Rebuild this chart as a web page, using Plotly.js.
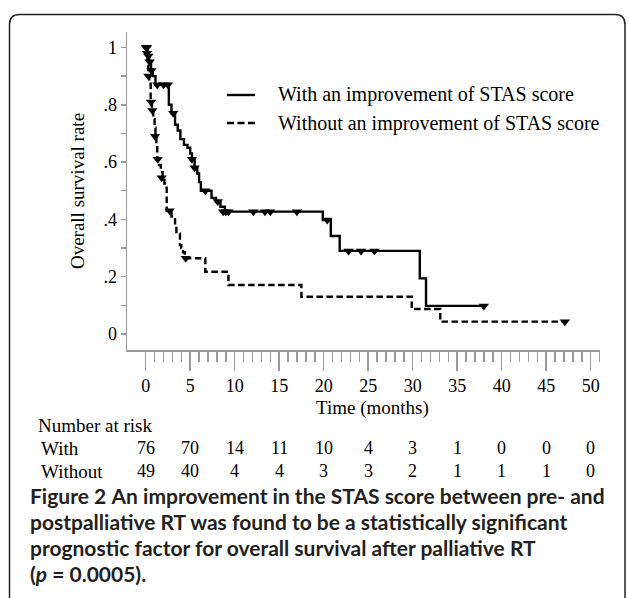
<!DOCTYPE html>
<html>
<head>
<meta charset="utf-8">
<script src="https://cdn.plot.ly/plotly-3.0.1.min.js"></script>
<style>
html,body{margin:0;padding:0;background:#fff;}
#chart{width:629px;height:598px;}
</style>
</head>
<body>
<div id="chart"></div>
<script>
// ---- Data ----
// "With an improvement of STAS score" Kaplan-Meier steps
var withT = [0, 0.2, 0.4, 0.6, 0.8, 1.1, 2.6, 2.9, 3.3, 3.6, 3.9, 4.3, 4.7, 5.0, 5.2, 5.5, 5.8, 6.0, 6.2, 7.4, 7.9, 8.4, 8.9, 19.9, 20.8, 21.8, 30.8, 31.5, 38.0];
var withS = [1, 0.97, 0.95, 0.92, 0.90, 0.87, 0.80, 0.77, 0.73, 0.71, 0.68, 0.66, 0.65, 0.63, 0.61, 0.58, 0.56, 0.53, 0.50, 0.475, 0.462, 0.444, 0.427, 0.398, 0.342, 0.290, 0.194, 0.098, 0.098];
// censored observations (triangles)
var withCT = [0.05, 0.15, 0.3, 0.45, 0.65, 1.3, 2.0, 2.5, 3.1, 5.2, 5.5, 6.7, 8.1, 8.7, 9.0, 9.3, 12.1, 13.4, 14.0, 17.0, 20.4, 22.8, 24.2, 25.7, 38.0];
var withCS = [1, 1, 0.97, 0.95, 0.92, 0.87, 0.87, 0.87, 0.77, 0.61, 0.58, 0.50, 0.462, 0.427, 0.427, 0.427, 0.427, 0.427, 0.427, 0.427, 0.398, 0.290, 0.290, 0.290, 0.098];

// "Without an improvement of STAS score"
var woT = [0, 0.1, 0.2, 0.3, 0.4, 0.56, 0.7, 0.85, 1.0, 1.1, 1.2, 1.3, 1.5, 1.7, 1.9, 2.1, 2.36, 2.9, 3.3, 3.45, 3.85, 4.0, 4.2, 4.4, 6.7, 9.3, 17.5, 29.9, 33.1, 47.1];
var woS = [1, 0.98, 0.94, 0.90, 0.88, 0.81, 0.78, 0.75, 0.72, 0.69, 0.66, 0.61, 0.59, 0.565, 0.545, 0.525, 0.43, 0.41, 0.37, 0.35, 0.31, 0.30, 0.285, 0.264, 0.217, 0.171, 0.130, 0.087, 0.043, 0.043];
var woCT = [0.05, 0.15, 0.3, 0.6, 0.75, 1.05, 1.35, 1.8, 2.7, 4.5, 47.1];
var woCS = [1, 0.98, 0.90, 0.81, 0.78, 0.69, 0.61, 0.545, 0.43, 0.264, 0.043];

// axis ticks
var xTickVals = [0, 5, 10, 15, 20, 25, 30, 35, 40, 45, 50];
var xTickText = ['0', '5', '10', '15', '20', '25', '30', '35', '40', '45', '50'];
var xMinorVals = [1,2,3,4,6,7,8,9,11,12,13,14,16,17,18,19,21,22,23,24,26,27,28,29,31,32,33,34,36,37,38,39,41,42,43,44,46,47,48,49,51];
var yTickVals = [0, 0.2, 0.4, 0.6, 0.8, 1];
var yTickText = ['0', '.2', '.4', '.6', '.8', '1'];
var yMinorVals = [0.1, 0.3, 0.5, 0.7, 0.9];

// number at risk table
var riskTimes = [0, 5, 10, 15, 20, 25, 30, 35, 40, 45, 50];
var riskWith = [76, 70, 14, 11, 10, 4, 3, 1, 0, 0, 0];
var riskWithout = [49, 40, 4, 4, 3, 3, 2, 1, 1, 1, 0];

var legendLabels = ['With an improvement of STAS score', 'Without an improvement of STAS score'];
var captionLines = [
  '<b>Figure 2</b> <b>An improvement in the STAS score between pre- and</b>',
  '<b>postpalliative RT was found to be a statistically significant</b>',
  '<b>prognostic factor for overall survival after palliative RT</b>',
  '<b>(<i>p</i> = 0.0005).</b>'
];

// ---- layout helpers (pixel -> paper) ----
var W = 629, H = 598, ML = 127, MR = 29, MT = 32, MB = 248;
var PW = W - ML - MR, PH = H - MT - MB;
function px(x) { return (x - ML) / PW; }
function py(y) { return (H - MB - y) / PH; }

var SERIF = 'Liberation Serif, Times New Roman, serif';
var SANS = 'Lato, Open Sans, sans-serif';

var traces = [
  {x: withT, y: withS, mode: 'lines', line: {shape: 'hv', color: '#000', width: 2.4}, hoverinfo: 'skip'},
  {x: woT, y: woS, mode: 'lines', line: {shape: 'hv', color: '#000', width: 2.4, dash: '6.5px,3.5px'}, hoverinfo: 'skip'},
  {x: withCT, y: withCS, mode: 'markers', marker: {symbol: 'triangle-down', size: 9, color: '#000'}, hoverinfo: 'skip'},
  {x: woCT, y: woCS, mode: 'markers', marker: {symbol: 'triangle-down', size: 9, color: '#000'}, hoverinfo: 'skip'}
];

function txt(x, y, text, size, family, anchor, xref) {
  return {xref: xref || 'paper', yref: 'paper', x: x, y: y, xanchor: anchor || 'left', yanchor: 'middle',
    text: text, showarrow: false, borderpad: 0, font: {family: family, size: size, color: family === SANS ? '#231f20' : '#000'}};
}

var ann = [];
// legend text
ann.push(txt(px(277), py(95), legendLabels[0], 20, SERIF));
ann.push(txt(px(277), py(123), legendLabels[1], 20, SERIF));
// x axis title
ann.push(txt(px(372), py(408), 'Time (months)', 19, SERIF, 'center'));
// number at risk
ann.push(txt(px(37), py(425), 'Number at risk', 19, SERIF));
ann.push(txt(px(40), py(448), 'With', 19, SERIF));
ann.push(txt(px(40), py(471), 'Without', 19, SERIF));
for (var i = 0; i < riskTimes.length; i++) {
  ann.push(txt(riskTimes[i], py(448), String(riskWith[i]), 18, SERIF, 'center', 'x'));
  ann.push(txt(riskTimes[i], py(471), String(riskWithout[i]), 18, SERIF, 'center', 'x'));
}
// caption
var capY = [495, 521, 547, 573];
for (var j = 0; j < captionLines.length; j++) {
  ann.push(txt(px(29), py(capY[j]), captionLines[j], 21, SANS));
}

// box and legend line samples
var bx0 = px(9.5), bx1 = px(625), byT = py(14.5), byB = py(640);
var rx = 10 / PW, ry = 10 / PH;
var boxPath = 'M' + bx0 + ',' + byB + ' L' + bx0 + ',' + (byT - ry) + ' Q' + bx0 + ',' + byT + ' ' + (bx0 + rx) + ',' + byT +
  ' L' + (bx1 - rx) + ',' + byT + ' Q' + bx1 + ',' + byT + ' ' + bx1 + ',' + (byT - ry) + ' L' + bx1 + ',' + byB;
var shapes = [
  {type: 'path', xref: 'paper', yref: 'paper', path: boxPath, line: {color: '#222', width: 1.5}},
  {type: 'line', xref: 'paper', yref: 'paper', x0: px(227), x1: px(255), y0: py(95), y1: py(95), line: {color: '#000', width: 2.4}},
  {type: 'line', xref: 'paper', yref: 'paper', x0: px(227), x1: px(255), y0: py(123), y1: py(123), line: {color: '#000', width: 2.4, dash: '7px,3.5px'}}
];

var axisGray = '#9a9a9a';
var layout = {
  width: W, height: H,
  margin: {l: ML, r: MR, t: MT, b: MB, pad: 0},
  paper_bgcolor: '#fff', plot_bgcolor: '#fff',
  showlegend: false,
  xaxis: {
    range: [-2.1, 51.05], showgrid: false, zeroline: false,
    showline: true, linecolor: axisGray, linewidth: 1.5,
    tickmode: 'array', tickvals: xTickVals, ticktext: xTickText,
    ticks: 'outside', ticklen: 19, tickwidth: 1.5, tickcolor: axisGray,
    tickfont: {family: SERIF, size: 18, color: '#000'},
    minor: {tickmode: 'array', tickvals: xMinorVals, ticks: 'outside', ticklen: 10, tickwidth: 1.5, tickcolor: axisGray, showgrid: false}
  },
  yaxis: {
    range: [-0.056, 1.054], showgrid: false, zeroline: false,
    showline: true, linecolor: axisGray, linewidth: 1.5,
    tickmode: 'array', tickvals: yTickVals, ticktext: yTickText,
    ticks: 'outside', ticklen: 5, tickwidth: 1.5, tickcolor: axisGray,
    tickfont: {family: SERIF, size: 18, color: '#000'},
    minor: {tickmode: 'array', tickvals: yMinorVals, ticks: 'outside', ticklen: 5, tickwidth: 1.5, tickcolor: axisGray, showgrid: false},
    title: {text: 'Overall survival rate', font: {family: SERIF, size: 19, color: '#000'}, standoff: 14}
  },
  annotations: ann,
  shapes: shapes
};

Plotly.newPlot('chart', traces, layout, {staticPlot: true, displayModeBar: false});
</script>
</body>
</html>
